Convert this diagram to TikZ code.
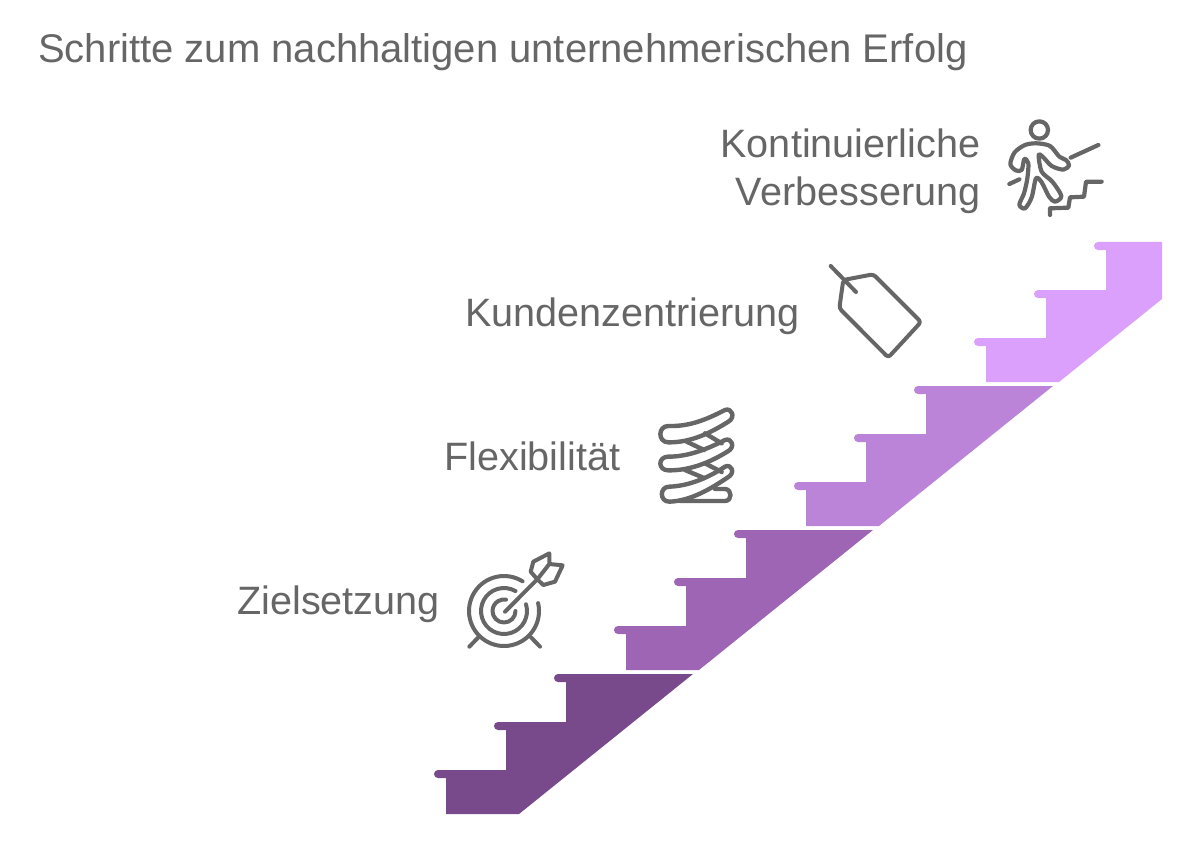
\documentclass[tikz,border=0pt]{standalone}
\usepackage{fontspec}
\setmainfont{Liberation Sans}
\definecolor{txt}{HTML}{666666}
\definecolor{ic}{HTML}{666666}
\definecolor{s1}{HTML}{784A8B}
\definecolor{s2}{HTML}{9D65B3}
\definecolor{s3}{HTML}{BB84D8}
\definecolor{s4}{HTML}{DBA0FB}
\tikzset{
 lbl/.style={text=txt,font=\fontsize{39.6}{48}\selectfont,inner sep=0pt,anchor=base east,align=right},
 icn/.style={draw=ic,line width=4pt,line cap=round,line join=round},
}
\newcommand{\treads}{(558,674) arc[start angle=-90,end angle=-270,radius=4pt] -- (566,682) -- (566,722) -- (498,722) arc[start angle=-90,end angle=-270,radius=4pt] -- (506,730) -- (506,770) -- (438,770) arc[start angle=-90,end angle=-270,radius=4pt] -- (446,778) -- (446,814) -- (519,814)}
\begin{document}
\begin{tikzpicture}[x=1pt,y=1pt,yscale=-1]
\useasboundingbox (0,0) rectangle (1190,842);
% stairs
\fill[s1] (693,674) -- \treads -- cycle;
\fill[s2,shift={(180,-144)}] (693,674) -- \treads -- cycle;
\fill[s3,shift={(360,-288)}] (693,674) -- \treads -- cycle;
\fill[s4,shift={(540,-432)}] (622,674) -- \treads -- (622,731) -- cycle;
% labels
\node[lbl,anchor=base west,font=\fontsize{40}{48}\selectfont] (title) at (38,62.5) {Schritte zum nachhaltigen unternehmerischen Erfolg};
\node[lbl] (l4a) at (980.5,158) {Kontinuierliche};
\node[lbl] (l4b) at (980.5,206) {Verbesserung};
\node[lbl] (l3) at (800,326) {Kundenzentrierung};
\node[lbl] (l2) at (620.5,470) {Flexibilität};
\node[lbl] (l1) at (440,614) {Zielsetzung};
% target
\begin{scope}[icn]
\draw (504,611) ++(-13:35pt) arc[start angle=-13,end angle=302,radius=35pt];
\draw (504,611) ++(-17:23pt) arc[start angle=-17,end angle=300,radius=23pt];
\draw (504,611) ++(0:11.5pt) arc[start angle=0,end angle=280,radius=11.5pt];
\draw (505,611.7) -- (537.3,579.3);
\draw[shift={(450,540)},scale=1/3] (262,118) -- (242,95) -- (250,65) -- (298,40) -- (298,72) -- (338,76) -- (315,125) -- (280,135) -- cycle (262,118) -- (298,72);
\draw[shift={(450,540)},scale=1/3] (58,320) -- (85,292) (270,320) -- (243,292);
\end{scope}
% spring
\begin{scope}[icn,line width=4.4pt,shift={(640,390)},scale=1/3]
\draw (85,108) .. controls (150,110) and (200,88) .. (255,60) .. controls (275,52) and (288,82) .. (265,95) .. controls (210,130) and (150,158) .. (85,157) .. controls (53,157) and (53,108) .. (85,108) -- cycle;
\draw (85,200) .. controls (150,200) and (210,173) .. (255,150) .. controls (275,142) and (288,172) .. (262,185) .. controls (210,217) and (150,242) .. (85,241) .. controls (53,241) and (53,200) .. (85,200) -- cycle;
\draw (88,290) .. controls (150,288) and (210,260) .. (255,230) .. controls (275,220) and (288,250) .. (262,263) .. controls (210,298) and (150,333) .. (88,335) .. controls (58,335) and (58,290) .. (88,290) -- cycle;
\draw (120,333) -- (255,333) .. controls (277,333) and (277,298) .. (255,297) -- (225,297);
\draw (140,155) -- (192,180) (195,130) -- (245,160) (135,240) -- (192,264) (195,220) -- (245,246);
\end{scope}
% tag
\begin{scope}[icn]
\draw (830.7,266) -- (856,292);
\draw[rounded corners=3pt] (843.3,280) -- (873.3,274.3) -- (921,322) -- (888.3,357.5) -- (839.3,308.3) -- cycle;
\end{scope}
% person
\begin{scope}[icn,line width=4.2pt,shift={(1000,110)},scale=1/3]
\draw (118,60) circle[radius=26];
\draw plot[smooth cycle,tension=.5] coordinates {(110,100) (150,108) (178,140) (198,150) (207,166) (190,179) (155,168) (130,142) (116,135) (125,185) (157,215) (184,258) (165,275) (147,260) (125,217) (108,205) (95,262) (75,295) (58,284) (72,250) (82,205) (85,160) (73,147) (65,180) (47,181) (31,162) (44,127) (75,105)};
\draw (212,143) -- (295,105) (28,222) -- (58,208);
\draw (150,315) -- (150,295) -- (205,293) -- (210,262) -- (252,260) -- (258,215) -- (305,215);
\end{scope}
\end{tikzpicture}
\end{document}
